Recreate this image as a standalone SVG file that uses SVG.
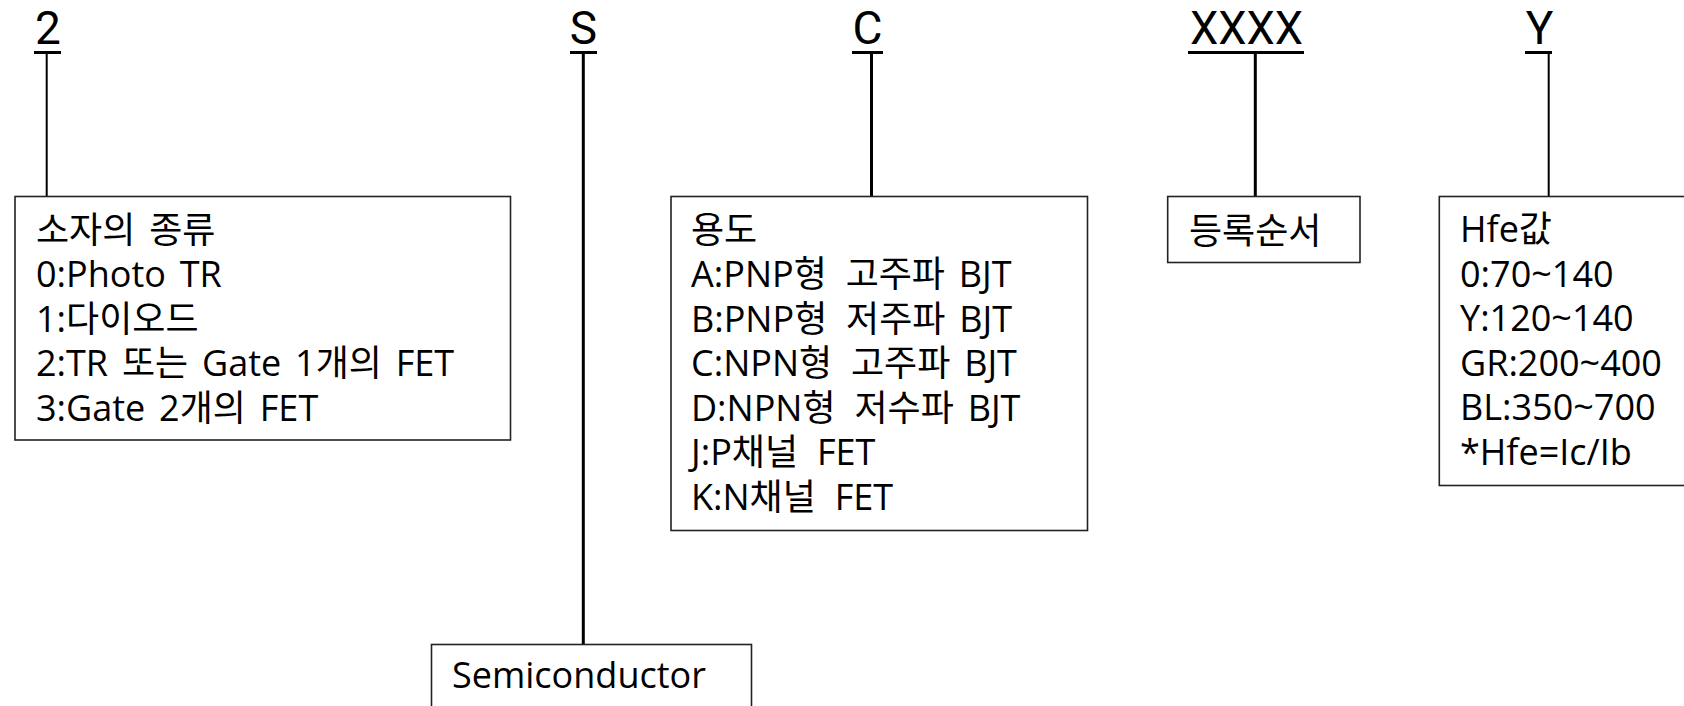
<svg xmlns="http://www.w3.org/2000/svg" width="1684" height="706" viewBox="0 0 1684 706">
  <style>
    text { font-family: "Open Sans", "Noto Sans CJK KR", sans-serif; fill: #000; }
    .code { font-family: Roboto, "Open Sans", sans-serif; font-size: 46px; text-anchor: middle; }
    .body { font-size: 36px; word-spacing: 4.5px; }
    .uline { stroke: #000; stroke-width: 3; }
    .box { fill: #fff; stroke: #222; stroke-width: 1.6; }
    .thin { stroke: #000; stroke-width: 2; fill: none; }
    .thick { stroke: #000; stroke-width: 3; fill: none; }
  </style>
  <rect x="0" y="0" width="1684" height="706" fill="#fff"/>

  <g id="connectors">
    <line class="thin" x1="46.7" y1="53" x2="46.7" y2="196"/>
    <line class="thick" x1="583.3" y1="53" x2="583.3" y2="644"/>
    <line class="thick" x1="871.5" y1="53" x2="871.5" y2="196"/>
    <line class="thick" x1="1255.3" y1="53" x2="1255.3" y2="196"/>
    <line class="thin" x1="1548.7" y1="53" x2="1548.7" y2="196"/>
  </g>

  <g id="label-2">
    <text class="code" x="48" y="44">2</text>
    <line class="uline" x1="34" y1="52.5" x2="61" y2="52.5"/>
  </g>
  <g id="label-S">
    <text class="code" x="583.5" y="44">S</text>
    <line class="uline" x1="570" y1="52.5" x2="597" y2="52.5"/>
  </g>
  <g id="label-C">
    <text class="code" x="867.5" y="44">C</text>
    <line class="uline" x1="852" y1="52.5" x2="883" y2="52.5"/>
  </g>
  <g id="label-XXXX">
    <text class="code" x="1246.5" y="44" textLength="113" lengthAdjust="spacingAndGlyphs">XXXX</text>
    <line class="uline" x1="1188" y1="52.5" x2="1304" y2="52.5"/>
  </g>
  <g id="label-Y">
    <text class="code" x="1539.5" y="44">Y</text>
    <line class="uline" x1="1525" y1="52.5" x2="1552" y2="52.5"/>
  </g>

  <g id="box-type">
    <rect class="box" x="15" y="196.5" width="495.5" height="243.5"/>
    <text class="body" x="36" y="242.5">소자의 종류</text>
    <text class="body" x="36" y="287">0:Photo TR</text>
    <text class="body" x="36" y="331.5">1:다이오드</text>
    <text class="body" x="36" y="376">2:TR 또는 Gate 1개의 FET</text>
    <text class="body" x="36" y="420.5">3:Gate 2개의 FET</text>
  </g>

  <g id="box-semiconductor">
    <rect class="box" x="431.5" y="644.5" width="320" height="80"/>
    <text class="body" x="452" y="688">Semiconductor</text>
  </g>

  <g id="box-usage">
    <rect class="box" x="671" y="196.5" width="416.5" height="334"/>
    <text class="body" x="691" y="242.5">용도</text>
    <text class="body" x="691" y="287">A:PNP형 <tspan dx="5">고주파 BJT</tspan></text>
    <text class="body" x="691" y="331.5">B:PNP형 <tspan dx="5">저주파 BJT</tspan></text>
    <text class="body" x="691" y="376">C:NPN형 <tspan dx="5">고주파 BJT</tspan></text>
    <text class="body" x="691" y="420.5">D:NPN형 <tspan dx="5">저수파 BJT</tspan></text>
    <text class="body" x="691" y="465">J:P채널 <tspan dx="5">FET</tspan></text>
    <text class="body" x="691" y="509.5">K:N채널 <tspan dx="5">FET</tspan></text>
  </g>

  <g id="box-order">
    <rect class="box" x="1167.7" y="196.5" width="192.3" height="66"/>
    <text class="body" x="1189" y="244">등록순서</text>
  </g>

  <g id="box-hfe">
    <rect class="box" x="1439.3" y="196.5" width="260" height="289"/>
    <text class="body" x="1460" y="242">Hfe값</text>
    <text class="body" x="1460" y="286.5">0:70~140</text>
    <text class="body" x="1460" y="331">Y:120~140</text>
    <text class="body" x="1460" y="375.5">GR:200~400</text>
    <text class="body" x="1460" y="420">BL:350~700</text>
    <text class="body" x="1460" y="464.5">*Hfe=Ic/Ib</text>
  </g>
</svg>
